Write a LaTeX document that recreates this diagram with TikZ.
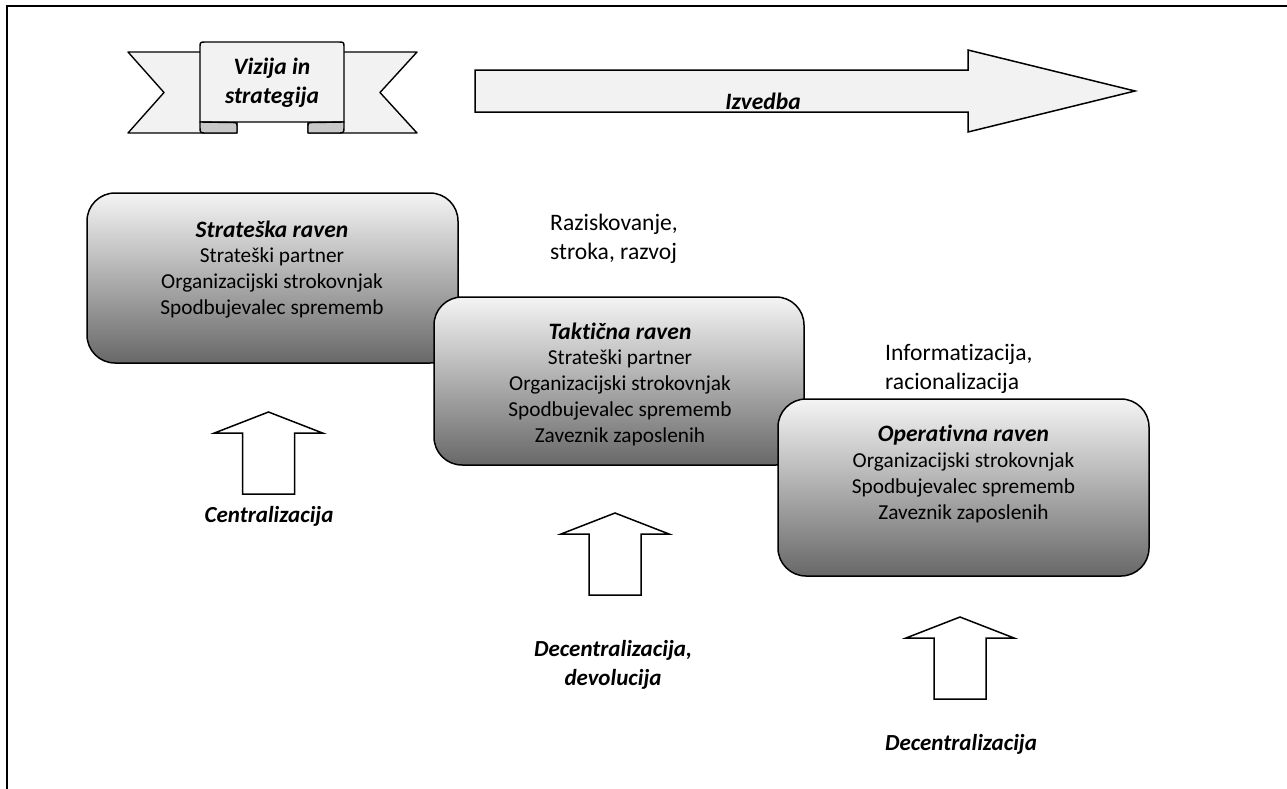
\documentclass[tikz,border=0pt]{standalone}
\usepackage{fontspec}
\setmainfont{Carlito}[Ligatures={NoCommon}]
\definecolor{ribbongray}{RGB}{242,242,242}
\definecolor{rollgray}{RGB}{200,200,200}
\definecolor{boxtop}{RGB}{244,244,244}
\definecolor{boxbot}{RGB}{104,104,104}
\begin{document}
\begin{tikzpicture}[x=1pt,y=-1pt,
  frameline/.style={line width=2pt},
  ribbonfill/.style={draw=black, line width=1.4pt, fill=ribbongray, line join=round},
  rollfill/.style={draw=black, line width=1.4pt, fill=rollgray, line join=round},
  levelbox/.style={draw=black, line width=1.5pt, rounded corners=28pt, top color=boxtop, bottom color=boxbot, inner sep=0pt},
  boxtext/.style={align=center, font=\fontsize{21.3}{26}\selectfont, inner sep=0pt, anchor=base},
  sidetext/.style={align=left, font=\fontsize{23.6}{29}\selectfont, inner sep=0pt, anchor=base west},
  labeltext/.style={align=center, font=\fontsize{23}{28.5}\selectfont\bfseries\itshape, inner sep=0pt, anchor=base},
  upblock/.style={draw=black, line width=1.5pt, fill=white, line join=miter},
  uparrow/.pic={\draw[upblock] (0,0) -- (54,21) -- (26,21) -- (26,82) -- (-26,82) -- (-26,21) -- (-54,21) -- cycle;}
]
\useasboundingbox (0,0) rectangle (1287,788);
% frame
\draw[frameline] (7,790) -- (7,5.5) -- (1290,5.5);

% ribbon
\draw[ribbonfill] (205,52) -- (128,52) -- (164,92.5) -- (128,133) -- (237,133) -- (237,120) -- (205,120) -- cycle;
\draw[ribbonfill] (339,52) -- (417,52) -- (380,92.5) -- (417,133) -- (308,133) -- (308,120) -- (339,120) -- cycle;
\draw[ribbonfill] (200,122) -- (200,47.5) .. controls (200,42) .. (206,42) -- (338,42) .. controls (344,42) .. (344,47.5) -- (344,122) -- cycle;
\draw[rollfill] (200,122) -- (200,127) .. controls (200,133) .. (207,133) -- (237,133) -- (237,126.5) .. controls (237,122.5) .. (231,122.5) -- cycle;
\draw[rollfill] (344,122) -- (344,127) .. controls (344,133) .. (337,133) -- (308,133) -- (308,126.5) .. controls (308,122.5) .. (314,122.5) -- cycle;
\node[labeltext, font=\fontsize{23.5}{28.5}\selectfont\bfseries\itshape] (vizija) at (272,103) {Vizija in\\strategija};

% execution arrow
\draw[ribbonfill, line width=1.5pt, line join=miter] (475,70) -- (968,70) -- (968,50) -- (1135,91) -- (968,132) -- (968,112) -- (475,112) -- cycle;
\node[labeltext, font=\fontsize{23.5}{28.5}\selectfont\bfseries\itshape] (izvedba) at (763,109) {Izvedba};

% level boxes
\node[levelbox, minimum width=371pt, minimum height=170pt] (strat) at (272.5,278) {};
\node[boxtext] (strattxt) at (272,314) {{\fontsize{23.5}{26}\selectfont\bfseries\itshape Strateška raven}\\[-1pt]Strateški partner\\Organizacijski strokovnjak\\Spodbujevalec sprememb};

\node[levelbox, minimum width=370pt, minimum height=168pt] (takt) at (619,381) {};
\node[boxtext] (takttxt) at (620,442) {{\fontsize{23.5}{26}\selectfont\bfseries\itshape Taktična raven}\\[-1.5pt]Strateški partner\\Organizacijski strokovnjak\\Spodbujevalec sprememb\\Zaveznik zaposlenih};

\node[levelbox, minimum width=371pt, minimum height=177pt] (oper) at (963.5,487.5) {};
\node[boxtext] (opertxt) at (963.5,519) {{\fontsize{23.5}{26}\selectfont\bfseries\itshape Operativna raven}\\[-0.5pt]Organizacijski strokovnjak\\Spodbujevalec sprememb\\Zaveznik zaposlenih};

% side texts
\node[sidetext] (razisk) at (550,259) {Raziskovanje,\\stroka, razvoj};
\node[sidetext] (inform) at (885,389) {Informatizacija,\\racionalizacija};

% up arrows
\pic at (268.5,412) {uparrow};
\pic at (615,513) {uparrow};
\pic at (960,617) {uparrow};

% labels
\node[labeltext] (central) at (269,522) {Centralizacija};
\node[labeltext] (decdev) at (613,685) {Decentralizacija,\\devolucija};
\node[labeltext] (decent) at (961,750) {Decentralizacija};
\end{tikzpicture}
\end{document}
